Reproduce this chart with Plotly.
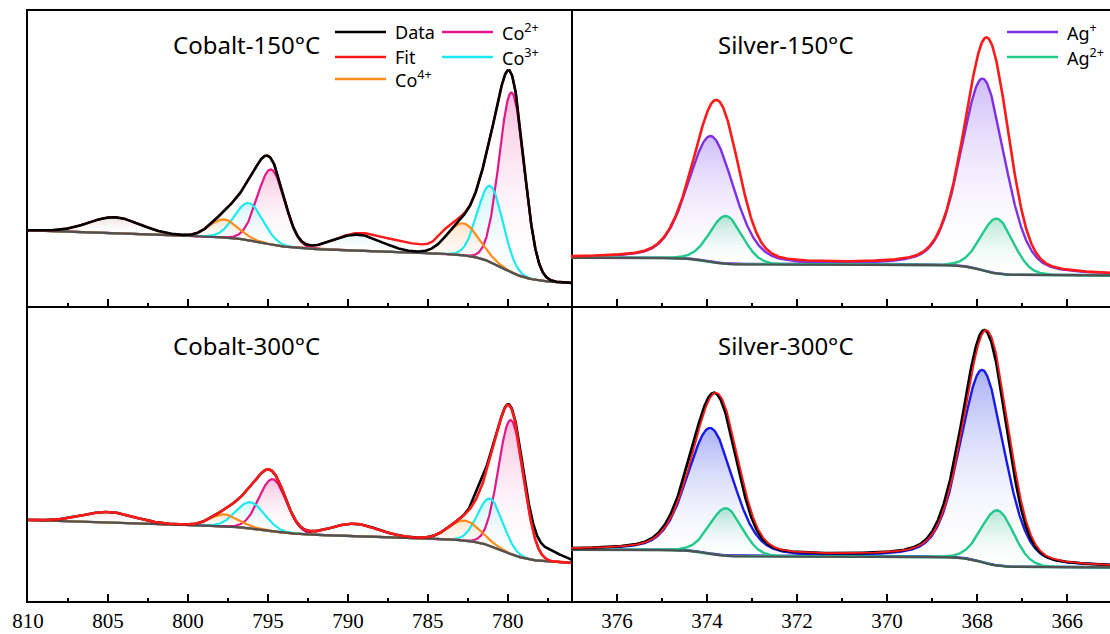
import numpy as np
import plotly.graph_objects as go
from plotly.subplots import make_subplots

# ---------------- data ----------------
CO_TICKS = [810, 805, 800, 795, 790, 785, 780]
AG_TICKS = [376, 374, 372, 370, 368, 366]

# Cobalt 2p components: order of peaks
CO_LABELS = ["Co2+", "Co3+", "Co4+", "Co2+", "Co3+", "Co4+", "Sat", "Sat"]
CO_FWHM = [1.85, 1.85, 2.35, 2.0, 2.1, 2.1, 3.5, 3.8]

CO150_CENTER = [779.75, 781.1, 782.8, 794.8, 796.2, 797.75, 789.4, 804.6]
CO150_HEIGHT = [180, 76, 32, 75, 37, 18, 16, 16]
CO150_BG = [23, 0.55, 776]            # base, slope, reference energy
CO150_STEP_C = [780.3, 795.3]
CO150_STEP_H = [25, 9]
CO150_STEP_W = [0.8, 0.8]
CO150_DEV_C = [786.3, 783.9]          # deviation of red trace from smooth trace
CO150_DEV_H = [8, 5]
CO150_DEV_W = [4.0, 1.2]

CO300_CENTER = [779.8, 781.1, 782.7, 794.7, 796.1, 797.7, 789.6, 805.0]
CO300_HEIGHT = [134, 47, 20, 52, 26, 12, 12.5, 10.5]
CO300_BG = [38, 0.5, 776]
CO300_STEP_C = [780.3, 795.0]
CO300_STEP_H = [20, 6]
CO300_STEP_W = [0.8, 0.8]
CO300_DEV_C = [777.6, 781.7]          # deviation of black trace from fit
CO300_DEV_H = [11, 8]
CO300_DEV_W = [2.4, 1.0]

# Silver 3d components
AG_LABELS = ["Ag+", "Ag+", "Ag2+", "Ag2+"]
AG_FWHM = [1.2, 1.15, 0.85, 0.85]
AG_ETA = [0.3, 0.3, 0.1, 0.1]

AG150_CENTER = [373.91, 367.87, 373.58, 367.56]
AG150_HEIGHT = [126, 192, 48, 55]
AG150_BG = [30.5, 0.1, 365]
AG150_STEP_C = [367.9, 374.0]
AG150_STEP_H = [10, 6.5]
AG150_STEP_W = [0.2, 0.2]

AG300_CENTER = [373.92, 367.88, 373.58, 367.55]
AG300_HEIGHT = [126, 192.5, 47.7, 55.4]
AG300_BG = [33.5, 0.1, 365]
AG300_STEP_C = [367.9, 374.0]
AG300_STEP_H = [10, 6.5]
AG300_STEP_W = [0.2, 0.2]
AG300_DATA_SHIFT = 0.04

# ---------------- styles ----------------
BLACK = "#000000"
RED = "#FF1A1A"
GRAY = "#505050"
LINE_COL = {"Co2+": "#E4168A", "Co3+": "#1EE8F0", "Co4+": "#FF8C1A",
            "Ag+150": "#7F2FE6", "Ag+300": "#1A1AE6", "Ag2+": "#22C98A"}
FILL_COL = {"Co2+": "rgba(232,60,150,0.32)", "Co3+": "rgba(0,215,225,0.20)",
            "Co4+": "rgba(255,140,50,0.25)", "Sat790": "rgba(120,215,215,0.22)",
            "Sat805": "rgba(175,120,110,0.22)", "Ag+150": "rgba(130,80,240,0.38)",
            "Ag+300": "rgba(40,60,230,0.40)", "Ag2+": "rgba(30,190,120,0.32)"}


def pv(x, c, h, fwhm, eta=0.0):
    d = (x - c) / fwhm
    g = np.exp(-4 * np.log(2) * d ** 2)
    l = 1.0 / (1 + 4 * d ** 2)
    return h * ((1 - eta) * g + eta * l)


def background(x, bgp, sc, sh, sw):
    y = bgp[0] + bgp[1] * (x - bgp[2])
    for c, h, w in zip(sc, sh, sw):
        y = y + h / (1 + np.exp(-(x - c) / w))
    return y


fig = make_subplots(rows=2, cols=2, horizontal_spacing=0, vertical_spacing=0,
                    column_widths=[543, 539])


def add_fill(x, bg, p, color, row, col):
    m = p > 0.15
    xs, top, base = x[m], (bg + p)[m], bg[m]
    fig.add_trace(go.Scatter(
        x=np.concatenate([xs, xs[::-1]]), y=np.concatenate([top, base[::-1]]),
        fill="toself", mode="none", hoverinfo="skip", showlegend=False,
        fillgradient=dict(type="vertical",
                          colorscale=[[0, "rgba(255,255,255,0)"], [1, color]])),
        row=row, col=col)


def add_line(x, y, color, width, row, col):
    fig.add_trace(go.Scatter(x=x, y=y, mode="lines", showlegend=False,
                             line=dict(color=color, width=width)), row=row, col=col)


def cobalt_panel(row, centers, heights, bgp, sc, sh, sw, devc, devh, devw, noisy):
    x = np.linspace(776.0, 810.0, 1400)
    bg = background(x, bgp, sc, sh, sw)
    peaks = [pv(x, c, h, w) for c, h, w in zip(centers, heights, CO_FWHM)]
    fit = bg + sum(peaks)
    dev = sum(pv(x, c, h, w) for c, h, w in zip(devc, devh, devw))
    for lab, c, p in zip(CO_LABELS, centers, peaks):
        if lab == "Sat":
            add_fill(x, bg, p, FILL_COL["Sat805" if c > 800 else "Sat790"], row, 1)
        else:
            add_fill(x, bg, p, FILL_COL[lab], row, 1)
    for lab, p in zip(CO_LABELS, peaks):
        if lab != "Sat":
            add_line(x, bg + p, LINE_COL[lab], 2.2, row, 1)
    add_line(x, bg, GRAY, 2.2, row, 1)
    if noisy == "red":
        add_line(x, fit + dev, RED, 2.4, row, 1)
        add_line(x, fit, BLACK, 2.6, row, 1)
    else:
        add_line(x, fit + dev, BLACK, 2.6, row, 1)
        add_line(x, fit, RED, 2.6, row, 1)


def silver_panel(row, centers, heights, bgp, sc, sh, sw, agkey, shift):
    x = np.linspace(364.9, 377.1, 1400)
    bg = background(x, bgp, sc, sh, sw)
    peaks = [pv(x, c, h, w, e) for c, h, w, e in zip(centers, heights, AG_FWHM, AG_ETA)]
    fit = bg + sum(peaks)
    for lab, p in zip(AG_LABELS, peaks):
        add_fill(x, bg, p, FILL_COL[agkey if lab == "Ag+" else "Ag2+"], row, 2)
    for lab, p in zip(AG_LABELS, peaks):
        add_line(x, bg + p, LINE_COL[agkey if lab == "Ag+" else "Ag2+"], 2.4, row, 2)
    add_line(x, bg, GRAY, 2.2, row, 2)
    if shift is not None:
        xs = x - shift
        bgs = background(xs, bgp, sc, sh, sw)
        data = bgs + sum(pv(xs, c, h, w, e) for c, h, w, e in
                         zip(centers, heights, AG_FWHM, AG_ETA))
        add_line(x, data, BLACK, 2.8, row, 2)
        add_line(x, fit, RED, 1.8, row, 2)
    else:
        add_line(x, fit, RED, 2.6, row, 2)


cobalt_panel(1, CO150_CENTER, CO150_HEIGHT, CO150_BG, CO150_STEP_C, CO150_STEP_H,
             CO150_STEP_W, CO150_DEV_C, CO150_DEV_H, CO150_DEV_W, "red")
cobalt_panel(2, CO300_CENTER, CO300_HEIGHT, CO300_BG, CO300_STEP_C, CO300_STEP_H,
             CO300_STEP_W, CO300_DEV_C, CO300_DEV_H, CO300_DEV_W, "black")
silver_panel(1, AG150_CENTER, AG150_HEIGHT, AG150_BG, AG150_STEP_C, AG150_STEP_H,
             AG150_STEP_W, "Ag+150", None)
silver_panel(2, AG300_CENTER, AG300_HEIGHT, AG300_BG, AG300_STEP_C, AG300_STEP_H,
             AG300_STEP_W, "Ag+300", AG300_DATA_SHIFT)

# ---------------- axes ----------------
tickfont = dict(family="Liberation Serif", size=21, color="black")
for row in (1, 2):
    for col in (1, 2):
        left = col == 1
        fig.update_xaxes(
            row=row, col=col,
            range=[810, 776.05] if left else [377.02, 365.05],
            tickvals=CO_TICKS if left else AG_TICKS,
            ticks="inside", ticklen=7, tickwidth=2, tickcolor="black",
            minor=dict(dtick=2.5 if left else 1, ticks="inside", ticklen=3.5,
                       tickwidth=2, tickcolor="black", showgrid=False),
            showticklabels=(row == 2), tickfont=tickfont,
            showline=True, linecolor="black", linewidth=2, mirror=(row == 1),
            showgrid=False, zeroline=False)
        fig.update_yaxes(
            row=row, col=col, range=[0, 295], showticklabels=False, ticks="",
            showline=left, linecolor="black", linewidth=2, mirror=left,
            showgrid=False, zeroline=False)

# ---------------- titles & legend keys ----------------
W, L, TOP, BOT = 1082, 28, 11, 601


def px(xp):
    return (xp - L) / W


def py(yp):
    return (BOT - yp) / (BOT - TOP)


titlefont = dict(family="Noto Sans", size=24, color="black")
for text, xc, yc in [("Cobalt-150°C", 246, 45), ("Cobalt-300°C", 246, 345),
                     ("Silver-150°C", 786, 45), ("Silver-300°C", 786, 345)]:
    fig.add_annotation(x=px(xc), y=py(yc), xref="paper", yref="paper", text=text,
                       showarrow=False, font=titlefont, xanchor="center", yanchor="middle")

LEG_TEXT = ["Data", "Fit", "Co<sup>4+</sup>", "Co<sup>2+</sup>", "Co<sup>3+</sup>",
            "Ag<sup>+</sup>", "Ag<sup>2+</sup>"]
LEG_COLOR = [BLACK, RED, LINE_COL["Co4+"], LINE_COL["Co2+"], LINE_COL["Co3+"],
             LINE_COL["Ag+150"], LINE_COL["Ag2+"]]
LEG_POS = [(335, 32), (335, 57), (335, 79), (442, 32), (442, 57), (1007, 32), (1007, 57)]
legfont = dict(family="Noto Sans", size=18, color="black")
for t, c, (x0, y0) in zip(LEG_TEXT, LEG_COLOR, LEG_POS):
    fig.add_shape(type="line", xref="paper", yref="paper", x0=px(x0), x1=px(x0 + 51),
                  y0=py(y0), y1=py(y0), line=dict(color=c, width=2.6))
    fig.add_annotation(x=px(x0 + 58), y=py(y0), xref="paper", yref="paper", text=t,
                       showarrow=False, font=legfont, xanchor="left", yanchor="middle")

fig.update_layout(width=1110, height=634, margin=dict(l=L, r=0, t=TOP, b=634 - BOT),
                  paper_bgcolor="white", plot_bgcolor="white", showlegend=False)

fig.write_html("out.html", config={"displayModeBar": False},
               post_script="document.body.style.margin='0px';"
                           "document.body.style.overflow='hidden';")
